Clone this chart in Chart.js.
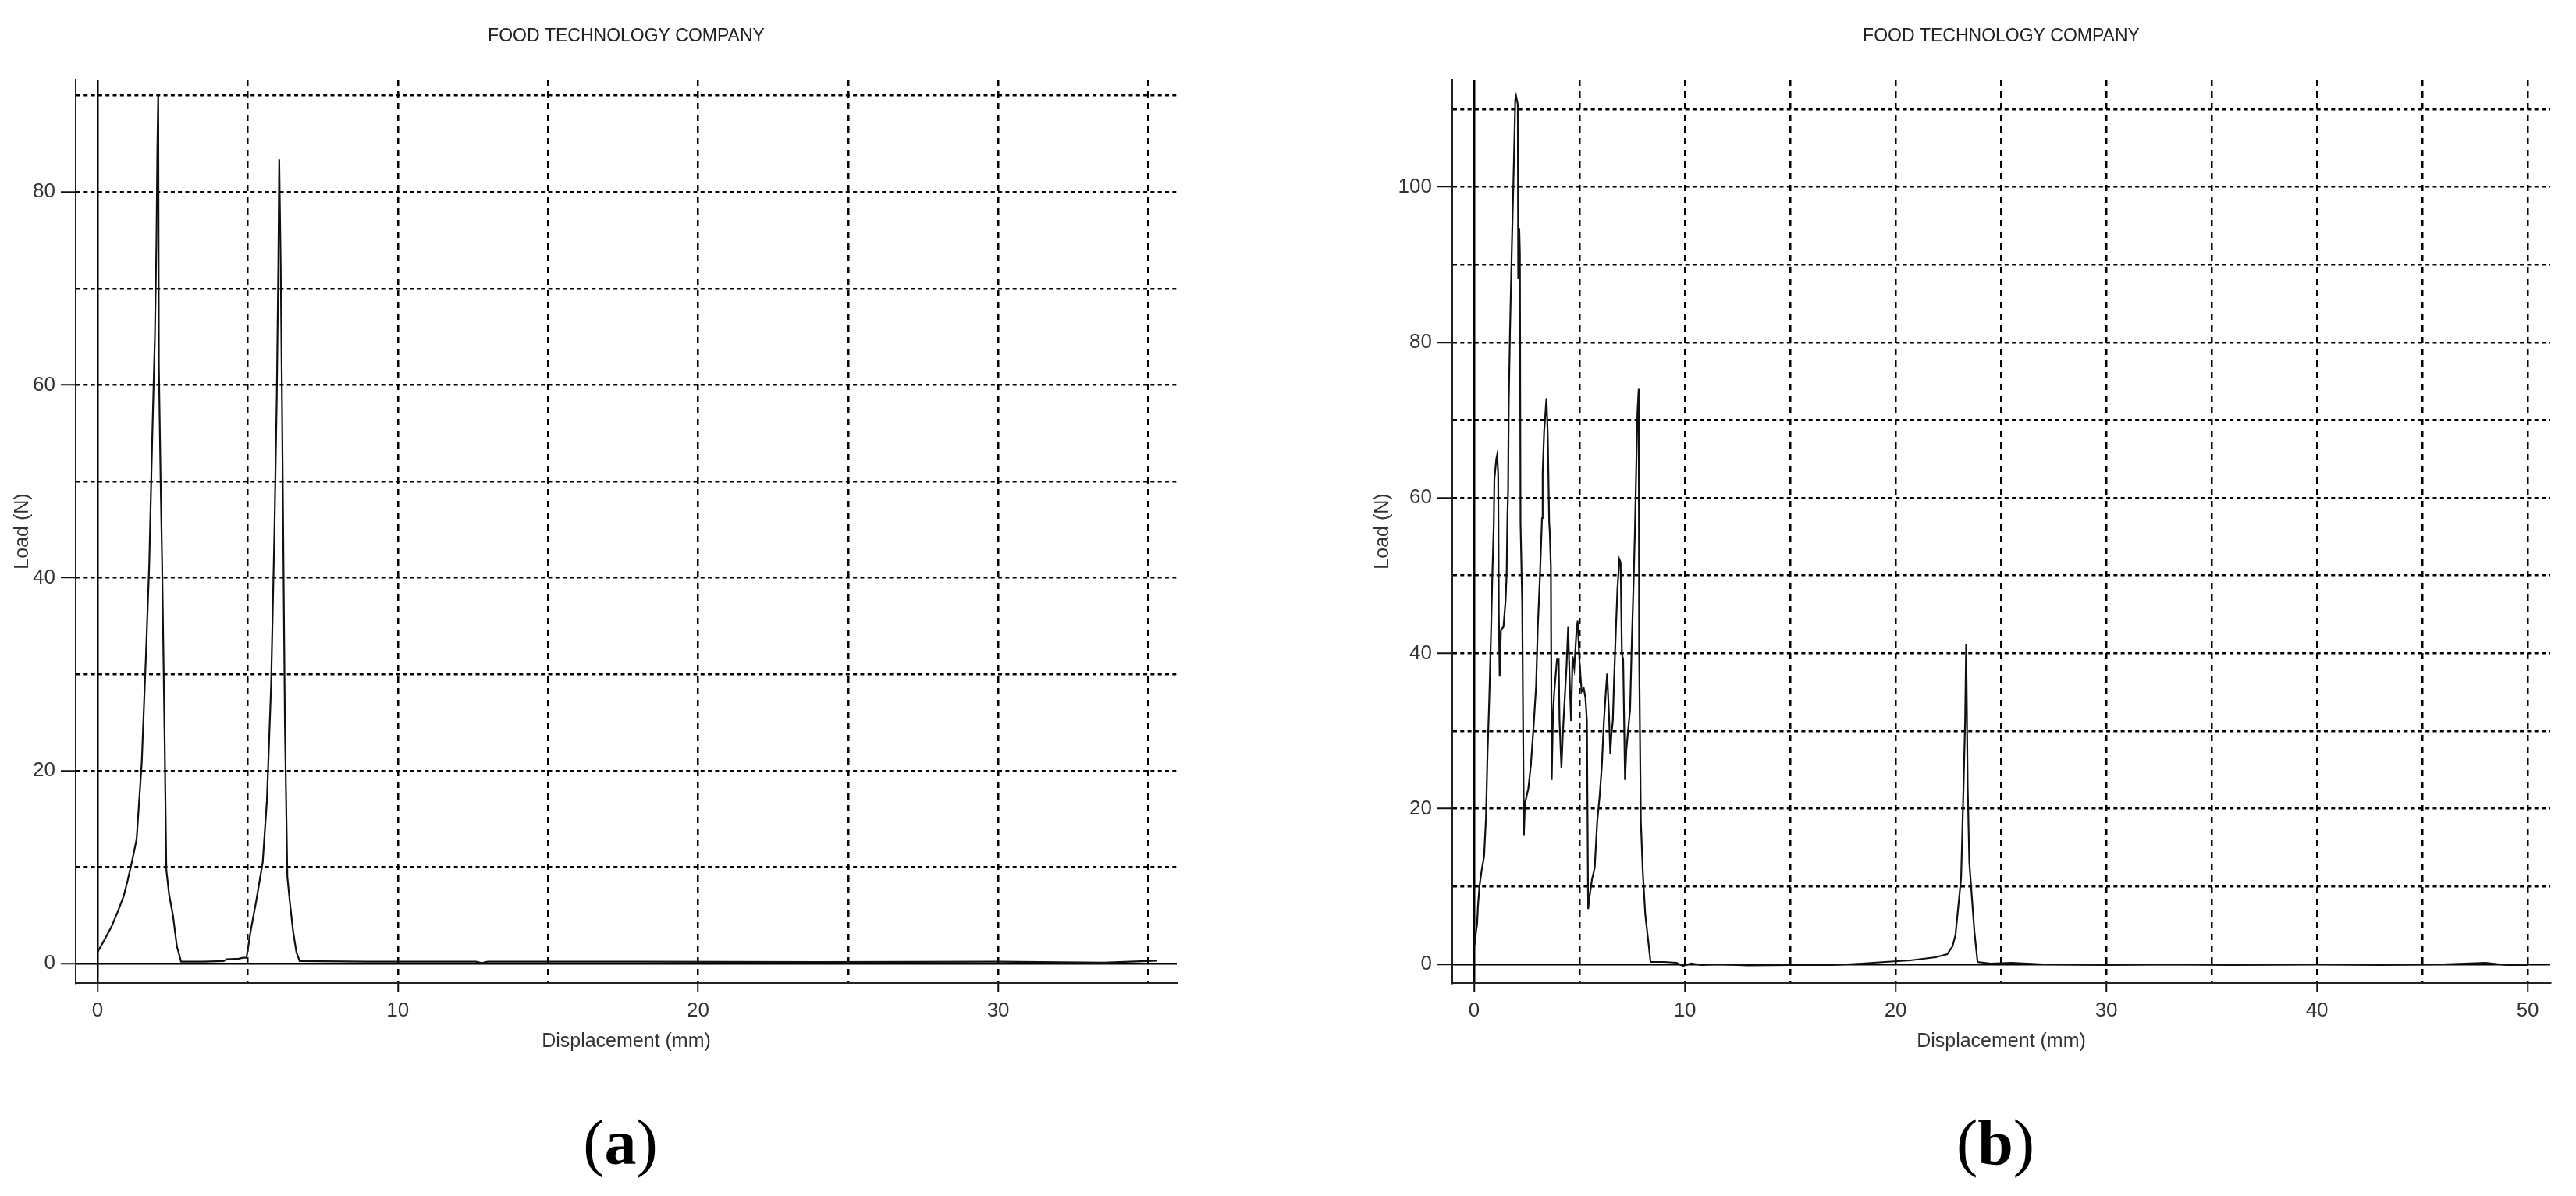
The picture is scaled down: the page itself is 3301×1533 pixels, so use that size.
<!DOCTYPE html>
<html lang="en">
<head>
  <meta charset="UTF-8" />
  <title>Load vs Displacement (a) and (b)</title>
  <script src="https://cdn.jsdelivr.net/npm/chart.js"></script>
  <style>
    body {
      margin: 0;
      width: 3301px;
      height: 1533px;
      position: relative;
      background: #fff;
      overflow: hidden;
    }
    .panel {
      position: absolute;
      top: 0;
    }
    .tag {
      position: absolute;
      width: 200px;
      text-align: center;
      font-family: 'Liberation Serif', 'Times New Roman', serif;
      font-size: 82px;
      line-height: 1;
      color: #000;
    }
  </style>
</head>

<body>
  <canvas id="chartA" class="panel" style="left:0" width="1650" height="1533"></canvas>
  <canvas id="chartB" class="panel" style="left:1650px" width="1651" height="1533"></canvas>
  <div class="tag" style="left:695px; top:1424px">(<b>a</b>)</div>
  <div class="tag" style="left:2457px; top:1424px">(<b>b</b>)</div>

  <script>
    // ------------------------------------------
    // Data
    // ------------------------------------------
    // (a) displacement (mm) / load (N)
    const aDisp = [
      0, 0.2, 0.46, 0.7, 0.87, 1.0, 1.14, 1.3, 1.47, 1.61, 1.72, 1.83, 1.91, 1.96, 1.99, 2.02,
      2.04, 2.1, 2.15, 2.23, 2.29, 2.38, 2.51, 2.64, 2.78, 3.5, 4.2, 4.3, 4.7, 4.85, 4.96, 5.1,
      5.29, 5.5, 5.64, 5.78, 5.89, 5.97, 6.02, 6.05, 6.1, 6.16, 6.24, 6.32, 6.41, 6.51, 6.62, 6.73,
      9, 12.6, 12.8, 13, 18, 24, 30, 33.5, 35.3
    ];
    const aLoad = [
      1.2, 2.3, 3.8, 5.6, 7, 8.6, 10.5, 12.9, 20.8, 31.9, 41.4, 55.7, 65.2, 74.7, 84.2, 90.2,
      62, 50, 41.4, 24, 9.7, 7.2, 5, 1.8, 0.2, 0.2, 0.25, 0.45, 0.5, 0.6, 0.6, 3.4,
      6.6, 10.5, 16.9, 28.8, 44.6, 58.9, 72.3, 83.4, 72.3, 52.5, 24.8, 9, 6.2, 3.4, 1.2, 0.25,
      0.2, 0.2, 0.05, 0.2, 0.2, 0.15, 0.2, 0.1, 0.3
    ];

    // (b) displacement (mm) / load (N)
    const bDisp = [
      0.02, 0.08, 0.14, 0.18, 0.25, 0.35, 0.47, 0.56, 0.63, 0.72, 0.8, 0.86, 0.93, 0.96, 1.05, 1.09,
      1.14, 1.17, 1.21, 1.27, 1.39, 1.49, 1.54, 1.58, 1.61, 1.64, 1.7, 1.79, 1.89, 1.95, 1.99, 2.07,
      2.09, 2.14, 2.17, 2.2, 2.28, 2.36, 2.41, 2.57, 2.69, 2.81, 2.94, 3.02, 3.12, 3.22, 3.25, 3.32,
      3.43, 3.49, 3.56, 3.59, 3.64, 3.68, 3.74, 3.8, 3.93, 4.01, 4.05, 4.14, 4.21, 4.3, 4.38, 4.46,
      4.54, 4.6, 4.67, 4.75, 4.85, 4.91, 5.0, 5.1, 5.2, 5.28, 5.35, 5.41, 5.47, 5.59, 5.72, 5.84,
      5.96, 6.06, 6.15, 6.23, 6.31, 6.4, 6.46, 6.52, 6.58, 6.64, 6.73, 6.8, 6.89, 6.95, 7.01, 7.07,
      7.16, 7.22, 7.32, 7.4, 7.47, 7.57, 7.63, 7.69, 7.75, 7.81, 7.83, 7.91, 8.0, 8.12, 8.25, 8.37,
      9.0, 9.6, 9.9, 10.3, 10.8, 11.5, 13, 15, 17, 18.4, 19.5, 20.7, 21.9, 22.45, 22.7, 22.84,
      23.11, 23.23, 23.3, 23.35, 23.42, 23.5, 23.74, 23.89, 24.5, 25.5, 27, 30, 33, 36, 40, 43,
      46, 48, 49, 50
    ];
    const bLoad = [
      2.5, 4, 5.2, 7.5, 10, 12, 13.9, 18.8, 26.8, 34.5, 42.6, 49.8, 56.6, 62.4, 65, 65.5,
      63, 45, 37, 43, 43.4, 46.8, 50.2, 57.8, 61, 72.1, 81.4, 92.5, 103.8, 111.2, 111.7, 110.6,
      88.2, 94.7, 91.5, 56.8, 46.4, 16.6, 20.7, 22.6, 25.6, 30.2, 35.8, 43.4, 49.8, 57.4, 63.2, 68.5,
      72.8, 68.2, 56.8, 55.5, 51, 23.7, 32, 35, 39.2, 39.2, 31.3, 25.3, 29.8, 34.3, 38.1, 43.4,
      35.8, 31.3, 39.6, 38.1, 42.6, 44.2, 38.9, 35.1, 35.5, 34.3, 31.3, 7.1, 8.6, 10.9, 12.4, 18.4,
      21.8, 25.6, 30.9, 34.3, 37.4, 32, 27.1, 29.8, 31.3, 36.6, 43.4, 48.3, 52.1, 51.7, 40, 39.2,
      23.7, 27.5, 30.5, 32.8, 40.4, 49.5, 55.9, 63.5, 71, 74.1, 40, 18.4, 12, 6.4, 3.3, 0.3,
      0.3, 0.2, -0.2, 0.1, -0.1, 0, -0.15, -0.1, -0.1, 0.1, 0.3, 0.5, 0.9, 1.3, 2.3, 3.7,
      11.1, 23.4, 31.3, 41.2, 23, 13.1, 4.2, 0.3, 0.1, 0.2, 0, -0.1, 0, -0.1, 0, -0.1,
      0, 0.2, -0.1, -0.1
    ];

    // grid positions and the ticks that carry a label
    const aGridX = [0, 5, 10, 15, 20, 25, 30, 35];
    const aGridY = [0, 10, 20, 30, 40, 50, 60, 70, 80, 90];
    const aLabelX = [0, 10, 20, 30];
    const aLabelY = [0, 20, 40, 60, 80];

    const bGridX = [0, 5, 10, 15, 20, 25, 30, 35, 40, 45, 50];
    const bGridY = [0, 10, 20, 30, 40, 50, 60, 70, 80, 90, 100, 110];
    const bLabelX = [0, 10, 20, 30, 40, 50];
    const bLabelY = [0, 20, 40, 60, 80, 100];

    // ------------------------------------------
    // Shared styling
    // ------------------------------------------
    const FONT = "'Liberation Sans Narrow', 'Arial Narrow', 'Liberation Sans', Arial, sans-serif";
    const INK = '#111';
    const GRID = '#000';

    function makeChart(canvasId, xs, ys, gridX, gridY, labelX, labelY, g) {
      const points = xs.map((x, i) => ({ x: x, y: ys[i] }));

      return new Chart(document.getElementById(canvasId), {
        type: 'line',
        data: {
          datasets: [{
            data: points,
            borderColor: INK,
            borderWidth: 2.2,
            pointRadius: 0,
            tension: 0,
            fill: false
          }]
        },
        options: {
          responsive: false,
          animation: false,
          layout: {
            autoPadding: false,
            padding: { left: 0, top: 0, right: g.padRight, bottom: 173 }
          },
          plugins: {
            legend: { display: false },
            tooltip: { enabled: false },
            title: {
              display: true,
              fullSize: false,
              text: 'FOOD TECHNOLOGY COMPANY',
              color: '#222',
              font: { family: FONT, size: 23, weight: 'normal', lineHeight: 1.2 },
              padding: { top: 33.2, bottom: 41.2 }
            }
          },
          scales: {
            x: {
              type: 'linear',
              min: g.xMin,
              max: g.xMax,
              afterFit: (s) => { s.height = 100; },
              afterBuildTicks: (s) => { s.ticks = gridX.map(v => ({ value: v })); },
              ticks: {
                autoSkip: false,
                maxRotation: 0,
                padding: 8.4,
                color: '#333',
                font: { family: FONT, size: 26 },
                callback: (v) => labelX.includes(v) ? String(v) : ''
              },
              grid: {
                color: GRID,
                lineWidth: 2.5,
                tickLength: 12,
                tickWidth: 2,
                tickColor: (c) => (c.tick && labelX.includes(c.tick.value)) ? INK : 'rgba(0,0,0,0)'
              },
              border: {
                display: true,
                color: '#222',
                width: 2,
                dash: (c) => (c.tick && c.tick.value === 0) ? [] : [8, 7]
              },
              title: {
                display: true,
                text: 'Displacement (mm)',
                color: '#333',
                font: { family: FONT, size: 25 },
                padding: { top: 0, bottom: 10 }
              }
            },
            y: {
              type: 'linear',
              position: 'left',
              min: g.yMin,
              max: g.yMax,
              afterFit: (s) => { s.width = g.yWidth; },
              afterBuildTicks: (s) => { s.ticks = gridY.map(v => ({ value: v })); },
              ticks: {
                autoSkip: false,
                padding: 7,
                color: '#333',
                font: { family: FONT, size: 26 },
                callback: (v) => labelY.includes(v) ? String(v) : ''
              },
              grid: {
                color: GRID,
                lineWidth: 2.5,
                tickLength: 19,
                tickWidth: 2,
                tickColor: (c) => (c.tick && labelY.includes(c.tick.value)) ? INK : 'rgba(0,0,0,0)'
              },
              border: {
                display: true,
                color: '#222',
                width: 2,
                dash: (c) => (c.tick && c.tick.value === 0) ? [] : [5, 4.3]
              },
              title: {
                display: true,
                text: 'Load (N)',
                color: '#333',
                font: { family: FONT, size: 25 },
                padding: { top: g.yTitlePad, bottom: 0 }
              }
            }
          }
        }
      });
    }

    makeChart('chartA', aDisp, aLoad, aGridX, aGridY, aLabelX, aLabelY, {
      padRight: 142, yWidth: 97, yTitlePad: 14,
      xMin: -0.73, xMax: 35.95, yMin: -2.02, yMax: 91.67
    });

    makeChart('chartB', bDisp, bLoad, bGridX, bGridY, bLabelX, bLabelY, {
      padRight: 33, yWidth: 211, yTitlePad: 107,
      xMin: -1.04, xMax: 51.07, yMin: -2.41, yMax: 113.8
    });
  </script>
</body>
</html>
